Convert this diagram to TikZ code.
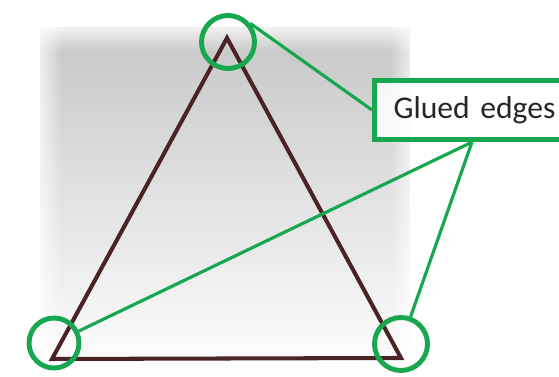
\documentclass[tikz,border=0pt]{standalone}
\usepackage{fontspec}
\newfontfamily\calloutfont{Carlito}
\usetikzlibrary{fadings}

\definecolor{gluegreen}{HTML}{17A74F}
\definecolor{edgebrown}{HTML}{4B2226}

\tikzfading[name=fade from left, left color=transparent!0, right color=transparent!100]
\tikzfading[name=fade from right, left color=transparent!100, right color=transparent!0]
\tikzfading[name=fade from top, top color=transparent!0, bottom color=transparent!100]

\pgfdeclarelayer{front}
\pgfsetlayers{main,front}

\begin{document}
\begin{tikzpicture}[
  x=0.02cm, y=-0.02cm,
  edge/.style={draw=edgebrown, line width=2.3pt, line join=miter},
  ring/.style={draw=gluegreen, circle, line width=2.8pt, minimum size=1.06cm, inner sep=0pt},
  pointer/.style={draw=gluegreen, line width=1.8pt},
  callout/.style={draw=gluegreen, line width=3pt, fill=white, fill opacity=0.85, text opacity=1,
    text=black!85, font=\calloutfont\fontsize{18}{21}\selectfont,
    text width=3.6cm, align=left, minimum height=1.18cm, inner xsep=0.38cm, anchor=west}
]
  \useasboundingbox (0,0) rectangle (559,377);
  \clip (0,0) rectangle (559,377);

  % --- FONDO ---
  \shade[top color={rgb,255:red,198;green,198;blue,198}, bottom color=white] (40,28) rectangle (410,377);
  \fill[white, path fading=fade from left] (30,20) rectangle (62,377);
  \fill[white, path fading=fade from right] (390,20) rectangle (420,377);
  \fill[white, path fading=fade from top] (30,20) rectangle (420,52);

  % --- TRIANGULO ---
  \coordinate (top) at (227,38);
  \coordinate (left) at (52,359);
  \coordinate (right) at (401,358);
  \draw[edge] (top) -- (right) -- (left) -- cycle;

  % --- VERTICES MARCADOS ---
  \node[ring] (apex) at (228,42) {};
  \node[ring, minimum size=1.0cm] (lcorner) at (54,343) {};
  \node[ring] (rcorner) at (401,344) {};

  % --- ETIQUETA Y CONEXIONES ---
  \begin{pgfonlayer}{front}
    \node[callout] (label) at (372,110) {Glued edges};
  \end{pgfonlayer}
  \coordinate (tap) at ([xshift=2cm]label.south west);

  \draw[pointer] (apex.40) -- (label.west);
  \draw[pointer] (tap) -- (lcorner);
  \draw[pointer] (tap) -- (rcorner);

\end{tikzpicture}
\end{document}
